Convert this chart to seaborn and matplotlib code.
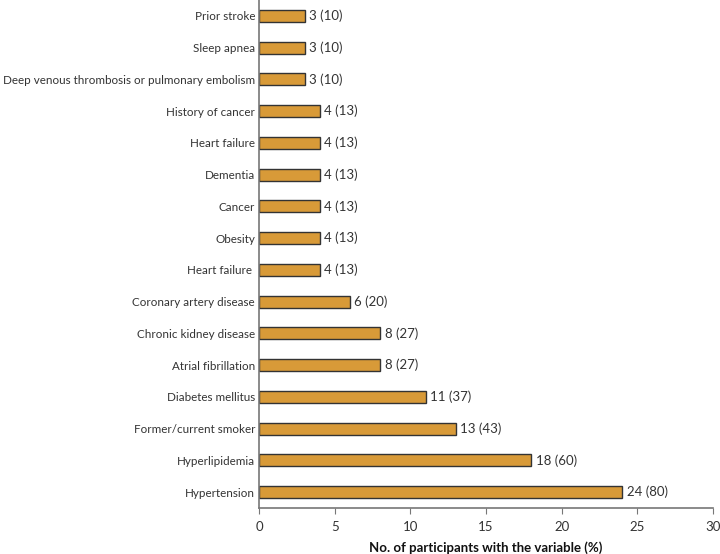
import matplotlib.pyplot as plt
import seaborn as sns
import pandas as pd

conditions = ["Prior stroke", "Sleep apnea",
              "Deep venous thrombosis or pulmonary embolism",
              "History of cancer", "Heart failure", "Dementia", "Cancer",
              "Obesity", "Heart failure ", "Coronary artery disease",
              "Chronic kidney disease", "Atrial fibrillation",
              "Diabetes mellitus", "Former/current smoker", "Hyperlipidemia",
              "Hypertension"]
counts = [3, 3, 3, 4, 4, 4, 4, 4, 4, 6, 8, 8, 11, 13, 18, 24]
percents = [10, 10, 10, 13, 13, 13, 13, 13, 13, 20, 27, 27, 37, 43, 60, 80]

df = pd.DataFrame({"condition": conditions, "n": counts, "pct": percents})

sns.set_style("ticks")
plt.rcParams["font.family"] = ["Lato", "DejaVu Sans"]

fig = plt.figure(figsize=(7.2, 5.54), dpi=100)
ax = fig.add_axes([0.36, 0.083, 0.63, 0.917])

sns.barplot(data=df, x="n", y="condition", ax=ax, color="#D89A38",
            saturation=1, width=0.38, edgecolor="#333333", linewidth=1)

for i, (n, p) in enumerate(zip(counts, percents)):
    ax.text(n + 0.3, i, f"{n} ({p})", va="center", ha="left",
            fontsize=9.5, color="#333333")

ax.set_xlim(0, 30)
ax.set_ylim(len(conditions) - 0.5, -0.5)
ax.set_xticks(range(0, 31, 5))
ax.set_xlabel("No. of participants with the variable (%)", fontsize=9.5,
              fontweight="bold", color="#111111", labelpad=6)
ax.set_ylabel("")
ax.tick_params(axis="y", length=0, labelsize=8.4, labelcolor="#333333", pad=3)
ax.tick_params(axis="x", length=4, labelsize=9.5, labelcolor="#333333",
               color="#777777", pad=5)
sns.despine(ax=ax)
for s in ["left", "bottom"]:
    ax.spines[s].set_color("#777777")
    ax.spines[s].set_linewidth(1.2)

fig.savefig("out.png", dpi=100)
